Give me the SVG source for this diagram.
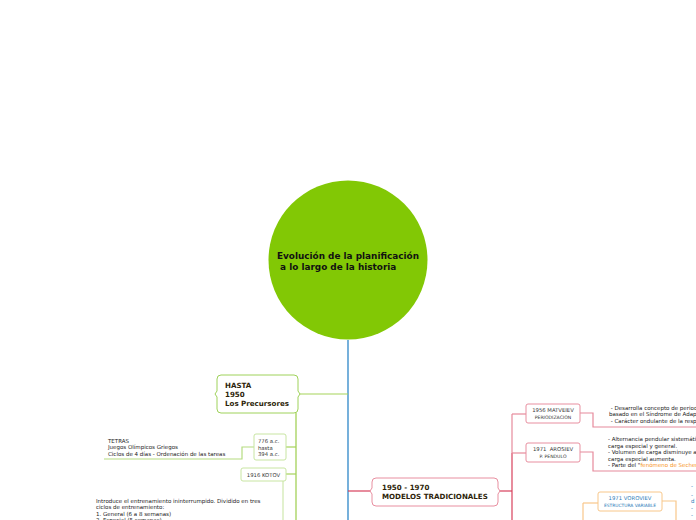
<svg xmlns="http://www.w3.org/2000/svg" width="696" height="520" viewBox="0 0 696 520">
<style>
.hdr{font-family:"DejaVu Sans",Verdana,sans-serif;font-weight:bold;font-size:7.1px;fill:#2e1f0a}
.sm{font-family:"DejaVu Sans",Verdana,sans-serif;font-size:5.5px;fill:#222}
.bx{font-family:"DejaVu Sans",Verdana,sans-serif;font-size:5.3px;fill:#333}
.ttl{font-family:"DejaVu Sans",Verdana,sans-serif;font-weight:bold;font-size:8.9px;fill:#111}
.ln{fill:none;stroke-width:1.2}
</style>
<rect width="696" height="520" fill="#ffffff"/>
<g id="connectors">
  <path class="ln" d="M348 340 V520" stroke="#1c7cc3"/>
  <path class="ln" d="M298 394 H348" stroke="#a6d35a"/>
  <path class="ln" d="M296 413 V520" stroke="#9ccd4b"/>
  <path class="ln" d="M286 447 H296" stroke="#a6d35a"/>
  <path class="ln" d="M286 474 H296" stroke="#a6d35a"/>
  <path class="ln" d="M254 447 H242 V459 H104" stroke="#b5dc80"/>
  <path class="ln" d="M283 481 V520" stroke="#cfe8ae"/>
  <path class="ln" d="M348 491 H372" stroke="#d8405c"/>
  <path class="ln" d="M498 491 H512" stroke="#d8405c"/>
  <path class="ln" d="M512 453 V520" stroke="#d8405c"/>
  <path class="ln" d="M512 414 V453" stroke="#e68a9c"/>
  <path class="ln" d="M512 414 H526" stroke="#e68a9c"/>
  <path class="ln" d="M512 453 H526" stroke="#e68a9c"/>
  <path class="ln" d="M580 413 H593 V427 H696" stroke="#e68a9c"/>
  <path class="ln" d="M580 452 H593 V471 H696" stroke="#e68a9c"/>
  <path class="ln" d="M583 503 H598" stroke="#f8c78a"/>
  <path class="ln" d="M583 503 V520" stroke="#f8c78a"/>
  <path class="ln" d="M662 501 H676 V520" stroke="#f8c78a"/>
</g>
<g id="root">
  <circle cx="348" cy="260" r="79.5" fill="#82c805"/>
  <text class="ttl" x="277" y="259">Evolución de la planificación</text>
  <text class="ttl" x="277" y="270" xml:space="preserve"> a lo largo de la historia</text>
</g>
<g id="hasta1950">
  <path d="M221 375 H294 Q298 375 298 379 V391 L300 394 L298 397 V409 Q298 413 294 413 H221 Q217 413 217 409 V397 L215 394 L217 391 V379 Q217 375 221 375 Z" fill="#fff" stroke="#9fd25a" stroke-width="1"/>
  <text class="hdr" x="225" y="388">HASTA</text>
  <text class="hdr" x="225" y="397">1950</text>
  <text class="hdr" x="225" y="406">Los Precursores</text>
</g>
<g id="a776">
  <rect x="254" y="434" width="32" height="26" rx="2" fill="#fff" stroke="#c8e5a2" stroke-width="1"/>
  <text class="bx" x="258" y="443">776 a.c.</text>
  <text class="bx" x="258" y="450">hasta</text>
  <text class="bx" x="258" y="456">394 a.c.</text>
</g>
<g id="tetras">
  <text class="sm" x="108" y="443">TETRAS</text>
  <text class="sm" x="108" y="449">Juegos Olímpicos Griegos</text>
  <text class="sm" x="108" y="456">Ciclos de 4 días - Ordenación de las tareas</text>
</g>
<g id="kotov">
  <rect x="241" y="468" width="45" height="13" rx="2" fill="#fff" stroke="#c8e5a2" stroke-width="1"/>
  <text class="bx" x="263.5" y="476.5" text-anchor="middle">1916 KOTOV</text>
</g>
<g id="kotovtext">
  <text class="sm" x="96" y="503">Introduce el entrenamiento ininterrumpido. Dividido en tres</text>
  <text class="sm" x="96" y="509">ciclos de entrenamiento:</text>
  <text class="sm" x="96" y="516">1. General (6 a 8 semanas)</text>
  <text class="sm" x="96" y="522">2. Especial (5 semanas)</text>
</g>
<g id="modelos">
  <path d="M376 478 H494 Q498 478 498 482 V488 L500 491 L498 494 V502 Q498 506 494 506 H376 Q372 506 372 502 V494 L370 491 L372 488 V482 Q372 478 376 478 Z" fill="#fff" stroke="#e88fa0" stroke-width="1"/>
  <text class="hdr" x="382" y="490">1950 - 1970</text>
  <text class="hdr" x="382" y="499">MODELOS TRADICIONALES</text>
</g>
<g id="matveiev">
  <rect x="526" y="404" width="54" height="19" rx="2" fill="#fff" stroke="#e88fa0" stroke-width="1"/>
  <text class="bx" x="553" y="412" text-anchor="middle">1956 MATVEIEV</text>
  <text class="bx" x="553" y="419" text-anchor="middle" style="font-size:4.6px">PERIODIZACION</text>
  <text class="sm" x="609" y="410" xml:space="preserve"> - Desarrolla concepto de periodización</text>
  <text class="sm" x="609" y="416">basado en el Síndrome de Adaptación</text>
  <text class="sm" x="609" y="423" xml:space="preserve"> - Carácter ondulante de la respuesta</text>
</g>
<g id="arosiev">
  <rect x="526" y="443" width="54" height="19" rx="2" fill="#fff" stroke="#e88fa0" stroke-width="1"/>
  <text class="bx" x="553" y="451" text-anchor="middle" xml:space="preserve">1971  AROSIEV</text>
  <text class="bx" x="553" y="458" text-anchor="middle" style="font-size:4.6px">P. PENDULO</text>
  <text class="sm" x="608" y="441">- Alternancia pendular sistemática</text>
  <text class="sm" x="608" y="448">carga especial y general.</text>
  <text class="sm" x="608" y="454">- Volumen de carga disminuye a</text>
  <text class="sm" x="608" y="461">carga especial aumenta.</text>
  <text class="sm" x="608" y="467">- Parte del "<tspan fill="#f7941d">fenómeno de Sechenov</tspan>"</text>
</g>
<g id="voroviev">
  <rect x="598" y="492" width="64" height="19" rx="2" fill="#fff" stroke="#f8c78a" stroke-width="1"/>
  <text class="bx" x="630" y="500" text-anchor="middle" style="fill:#2a7ab8">1971 VOROVIEV</text>
  <text class="bx" x="630" y="507" text-anchor="middle" style="fill:#2a7ab8;font-size:4.4px">ESTRUCTURA VARIABLE</text>
  <text class="sm" x="691" y="488" style="fill:#2a7ab8">-</text>
  <text class="sm" x="691" y="497" style="fill:#2a7ab8">-</text>
  <text class="sm" x="691" y="503" style="fill:#2a7ab8">d</text>
  <text class="sm" x="691" y="510" style="fill:#2a7ab8">-</text>
  <text class="sm" x="691" y="517" style="fill:#2a7ab8">-</text>
</g>
</svg>
